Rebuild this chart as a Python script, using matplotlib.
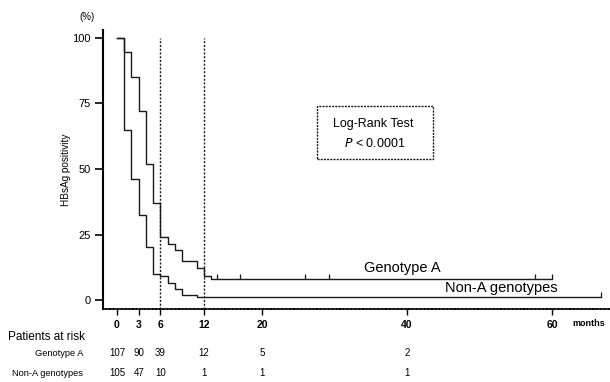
import numpy as np
import matplotlib
matplotlib.use("Agg")
import matplotlib.pyplot as plt
from matplotlib.patches import Rectangle

plt.rcParams['font.family'] = ['Liberation Sans', 'DejaVu Sans']

# Kaplan-Meier curves (months, % HBeAg positive)
months_a = [0, 1, 2, 3, 4, 5, 6, 7, 8, 9, 11, 12, 13, 60]
surv_a = [100, 94.5, 85, 72, 52, 37, 24, 21.5, 19, 15, 12.3, 9, 8, 8]
censor_a = [13.8, 17, 26, 29.2, 57.6, 60]

months_n = [0, 1, 2, 3, 4, 5, 6, 7, 8, 9, 11, 66.8]
surv_n = [100, 65, 46, 32.4, 20.2, 10, 9, 6.4, 4.2, 2, 1.2, 1.2]
censor_n = [66.8]

xticks = [0, 3, 6, 12, 20, 40, 60]
risk_a = [107, 90, 39, 12, 5, 2]
risk_n = [105, 47, 10, 1, 1, 1]
risk_at = [0, 3, 6, 12, 20, 40]

W, H = 610, 382
fig = plt.figure(figsize=(W / 100, H / 100), dpi=100)
ax = fig.add_axes([103 / W, 1 - 309 / H, 1 - 103 / W, (309 - 30) / H])

col = '#1a1a1a'
ax.step(months_a, surv_a, where='post', color=col, lw=1.0)
ax.step(months_n, surv_n, where='post', color=col, lw=1.0)
ax.vlines(censor_a, 8, 10, color=col, lw=0.9)
ax.vlines(censor_n, 1.2, 3.2, color=col, lw=0.9)

ax.set_xlim(-1.93, 68)
ax.set_ylim(-3.4, 103)
ax.vlines([6, 12], -3.4, 100, color=col, lw=1.0, linestyles=(0, (1.5, 1.2)))

for s in ['top', 'right']:
    ax.spines[s].set_visible(False)
ax.spines['left'].set_linewidth(1.5)
ax.spines['bottom'].set_linewidth(1.2)
ax.spines['bottom'].set_linestyle((0, (1.5, 0.8)))

ax.set_yticks([0, 25, 50, 75, 100])
ax.set_yticklabels(['0', '25', '50', '75', '100'], fontsize=8)
ax.tick_params(axis='y', length=6, width=1.2, pad=3)
ax.set_xticks(xticks)
ax.set_xticklabels([str(t) for t in xticks], fontsize=7.5, fontweight='bold')
ax.tick_params(axis='x', length=4, width=1.0, pad=4)
ax.set_ylabel('HBsAg positivity', fontsize=7.2, labelpad=1)

fig.text(87 / W, 1 - 17 / H, '(%)', fontsize=7, ha='center', va='center')
fig.text(589 / W, 1 - 323 / H, 'months', fontsize=6.5, fontweight='bold',
         ha='center', va='center')

# Log-rank box
ax.add_patch(Rectangle((27.6, 53.8), 16.0, 20.2, fill=False, ec=col, lw=1.0,
                       ls=(0, (1.5, 0.8))))
ax.text(35.4, 67.2, 'Log-Rank Test', fontsize=9, ha='center', va='center')
ax.text(35.6, 59.9, r'$P$ < 0.0001', fontsize=9, ha='center', va='center')

ax.text(39.3, 12.4, 'Genotype A', fontsize=10.5, ha='center', va='center')
ax.text(53.0, 4.7, 'Non-A genotypes', fontsize=10.5, ha='center', va='center')

# Patients at risk table
fig.text(8 / W, 1 - 337 / H, 'Patients at risk', fontsize=8.5, ha='left', va='center')
fig.text(83 / W, 1 - 353 / H, 'Genotype A', fontsize=6.7, ha='right', va='center')
fig.text(83 / W, 1 - 373 / H, 'Non-A genotypes', fontsize=6.7, ha='right', va='center')
for m, a, n in zip(risk_at, risk_a, risk_n):
    xf = fig.transFigure.inverted().transform(ax.transData.transform((m, 0)))[0]
    fig.text(xf, 1 - 353 / H, str(a), fontsize=7, ha='center', va='center')
    fig.text(xf, 1 - 373 / H, str(n), fontsize=7, ha='center', va='center')

fig.savefig('out.png', dpi=100)
